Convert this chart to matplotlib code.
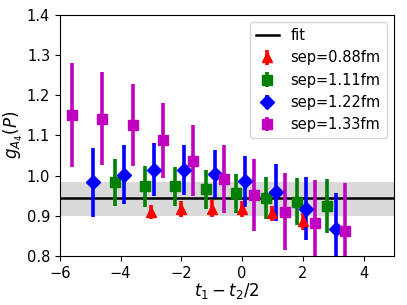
import matplotlib
matplotlib.use("Agg")
import matplotlib.pyplot as plt
import numpy as np

fit_value = 0.943
fit_lo = 0.900
fit_hi = 0.984

x_088 = [-3, -2, -1, 0, 1, 2]
y_088 = [0.910, 0.916, 0.918, 0.917, 0.906, 0.886]
e_088 = [0.017, 0.020, 0.020, 0.020, 0.019, 0.021]

x_111 = [-4.2, -3.2, -2.2, -1.2, -0.2, 0.8, 1.8, 2.8]
y_111 = [0.983, 0.973, 0.973, 0.966, 0.956, 0.945, 0.935, 0.925]
e_111 = [0.059, 0.052, 0.049, 0.048, 0.049, 0.052, 0.059, 0.067]

x_122 = [-4.9, -3.9, -2.9, -1.9, -0.9, 0.1, 1.1, 2.1, 3.1]
y_122 = [0.983, 1.002, 1.015, 1.014, 1.003, 0.986, 0.958, 0.918, 0.868]
e_122 = [0.085, 0.073, 0.066, 0.062, 0.060, 0.063, 0.071, 0.078, 0.088]

x_133 = [-5.6, -4.6, -3.6, -2.6, -1.6, -0.6, 0.4, 1.4, 2.4, 3.4]
y_133 = [1.151, 1.142, 1.126, 1.088, 1.037, 0.992, 0.952, 0.910, 0.881, 0.861]
e_133 = [0.130, 0.115, 0.103, 0.093, 0.088, 0.085, 0.089, 0.096, 0.107, 0.120]

labels = ["sep=0.88fm", "sep=1.11fm", "sep=1.22fm", "sep=1.33fm"]

fig = plt.figure(figsize=(4.07, 3.05), dpi=100)
ax = fig.add_axes([0.147, 0.161, 0.821, 0.790])

ax.axhspan(fit_lo, fit_hi, color="#d9d9d9", zorder=0, lw=0)
ax.axhline(fit_value, color="black", lw=1.8, label="fit", zorder=1)

series = [
    (x_088, y_088, e_088, "red", "^"),
    (x_111, y_111, e_111, "green", "s"),
    (x_122, y_122, e_122, "blue", "D"),
    (x_133, y_133, e_133, "m", "s"),
]
for (xs, ys, es, c, m), lab in zip(series, labels):
    ax.errorbar(xs, ys, yerr=es, fmt=m, color=c, ms=7, elinewidth=2.6,
                capsize=0, label=lab, zorder=3)

ax.set_xlim(-6, 5)
ax.set_ylim(0.8, 1.4)
ax.set_xticks([-6, -4, -2, 0, 2, 4])
ax.set_yticks(np.round(np.arange(0.8, 1.41, 0.1), 1))
ax.set_yticklabels([f"{v:.1f}" for v in np.arange(0.8, 1.41, 0.1)])
ax.tick_params(labelsize=10.5)
ax.set_xlabel(r"$t_1-t_2/2$", fontsize=12, labelpad=0)
ax.set_ylabel(r"$g_{A_4}(P)$", fontsize=12, labelpad=1)
ax.legend(loc="upper right", fontsize=10.5, handlelength=1.6)

fig.savefig("out.png", dpi=100)
